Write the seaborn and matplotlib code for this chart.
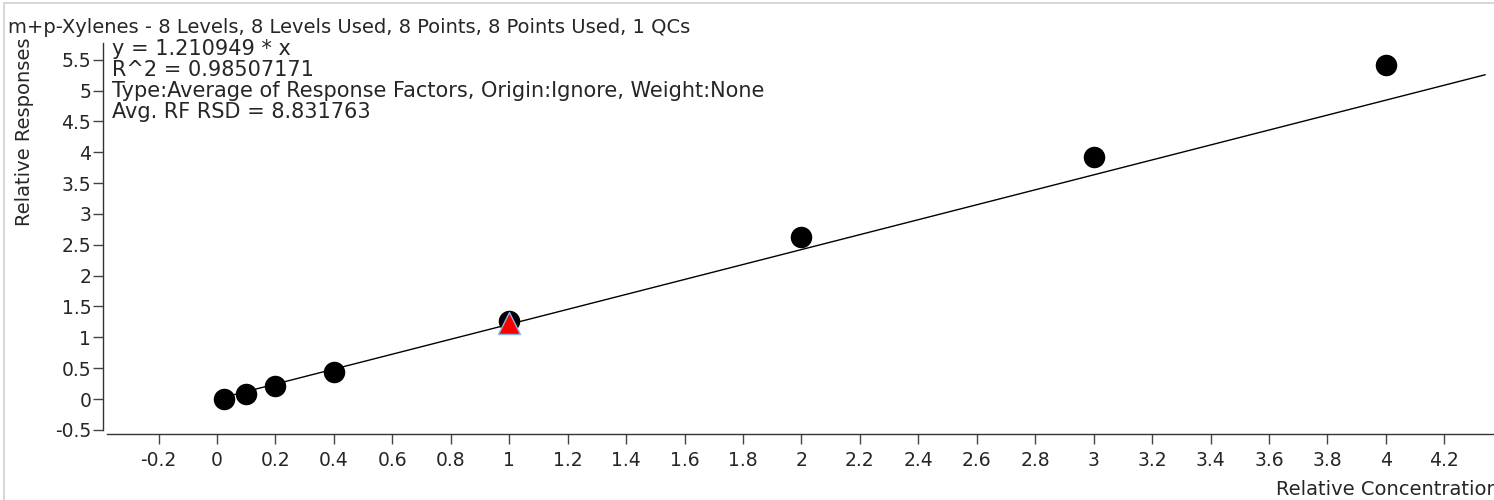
"""Calibration curve: m+p-Xylenes"""
import matplotlib
matplotlib.use('Agg')
import matplotlib.pyplot as plt
import seaborn as sns
import pandas as pd
import numpy as np
from matplotlib.patches import Rectangle
from matplotlib.ticker import FuncFormatter

# data
conc = [0.025, 0.1, 0.2, 0.4, 1.0, 2.0, 3.0, 4.0]
resp = [0.0, 0.08, 0.21, 0.43, 1.27, 2.62, 3.92, 5.42]
qc_conc = [1.0]
qc_resp = [1.23]
slope = 1.210949
fit_x = [0.0, 4.34]

x_ticks = np.round(np.arange(-0.2, 4.21, 0.2), 1)
y_ticks = np.round(np.arange(-0.5, 5.51, 0.5), 1)

title = "m+p-Xylenes - 8 Levels, 8 Levels Used, 8 Points, 8 Points Used, 1 QCs"
info_lines = [
    "y = 1.210949 * x",
    "R^2 = 0.98507171",
    "Type:Average of Response Factors, Origin:Ignore, Weight:None",
    "Avg. RF RSD = 8.831763",
]

sns.set_style("white")
plt.rcParams['font.family'] = ['DejaVu Sans']
FS = 14
W, H = 1494, 500

fig = plt.figure(figsize=(W / 100, H / 100), dpi=100)
ax = fig.add_axes([103 / W, 1 - 434 / H, 1 - 103 / W, (434 - 43) / H])

pts = pd.DataFrame({'conc': conc, 'resp': resp})
fit = pd.DataFrame({'x': fit_x, 'y': [slope * v for v in fit_x]})
qc = pd.DataFrame({'conc': qc_conc, 'resp': qc_resp})

# 拟合直线 + 标准点 + QC点
sns.lineplot(data=fit, x='x', y='y', color='black', linewidth=1.0, ax=ax, zorder=2)
sns.scatterplot(data=pts, x='conc', y='resp', color='black', s=240,
                linewidth=0, ax=ax, zorder=3)
sns.scatterplot(data=qc, x='conc', y='resp', color='red', marker='^', s=250,
                edgecolor='#8ab4e8', linewidth=1.0, ax=ax, zorder=4)

ax.set_xlim(-0.39, 4.37)
ax.set_ylim(-0.567, 5.77)
ax.set_xticks(x_ticks)
ax.set_yticks(y_ticks)
fmt = FuncFormatter(lambda v, p: f"{v:g}")
ax.xaxis.set_major_formatter(fmt)
ax.yaxis.set_major_formatter(fmt)
ax.tick_params(axis='both', direction='out', length=7.5, width=1, color='#444444',
               labelsize=13.5, left=True, bottom=True)
ax.tick_params(axis='x', pad=5)
ax.tick_params(axis='y', pad=1)

sns.despine(ax=ax)
ax.spines['left'].set_bounds(-0.5, 5.77)
ax.spines['bottom'].set_bounds(-0.377, 4.37)
for s in ['left', 'bottom']:
    ax.spines[s].set_color('#333333')
    ax.spines[s].set_linewidth(1.0)
ax.set_xlabel('')
ax.set_ylabel('')
ax.grid(False)

for i, line in enumerate(info_lines):
    fig.text(112 / W, 1 - (55 + i * 21) / H, line, ha='left', va='baseline',
             fontsize=15)

fig.text(8 / W, 1 - 33 / H, title, ha='left', va='baseline', fontsize=FS)
fig.text(25 / W, 1 - 38 / H, 'Relative Responses', rotation=90,
         ha='center', va='top', fontsize=FS)
fig.text(1276 / W, 1 - 495 / H, 'Relative Concentration', ha='left',
         va='baseline', fontsize=FS)

fig.patches.append(Rectangle((4 / W, -0.1), 1.2, 1 - 3 / H + 0.1,
                             transform=fig.transFigure, fill=False,
                             edgecolor='#cfcfcf', linewidth=1.2))

plt.savefig('out.png', dpi=100)
